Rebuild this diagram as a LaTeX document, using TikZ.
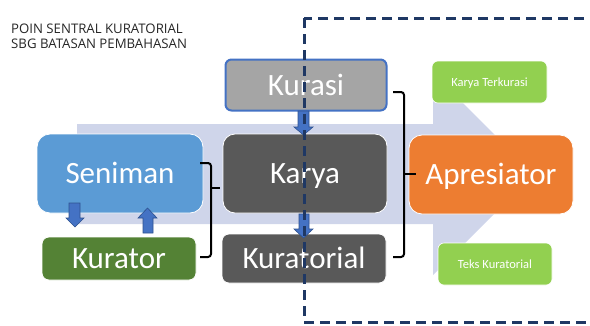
\documentclass[tikz,border=0pt]{standalone}
\usepackage{fontspec}
\setmainfont{Carlito}
\newfontfamily\titlefont{Open Sans}
\definecolor{lav}{HTML}{CFD5EA}
\definecolor{grayK}{HTML}{A5A5A5}
\definecolor{dark}{HTML}{595959}
\definecolor{blueS}{HTML}{5B9BD5}
\definecolor{greenK}{HTML}{548235}
\definecolor{orangeA}{HTML}{ED7D31}
\definecolor{lime}{HTML}{92D050}
\definecolor{arrowB}{HTML}{4472C4}
\definecolor{arrowE}{HTML}{2F528F}
\definecolor{navy}{HTML}{1F3864}
\definecolor{titlec}{HTML}{262626}
\begin{document}
\begin{tikzpicture}[x=1pt,y=-1pt,
  bigbox/.style={inner sep=0pt,text=white,font=\fontsize{31}{31}\selectfont,text height=20pt,text depth=0pt,draw=white,line width=0.8pt},
  smallbox/.style={inner sep=0pt,text=white,font=\fontsize{12.5}{12.5}\selectfont,text height=8pt,text depth=0pt,draw=white,line width=0.6pt,fill=lime,rounded corners=6pt,minimum width=115pt,minimum height=42pt},
  brace/.style={draw=black,line width=2pt,rounded corners=3pt},
  blockarrow/.style={fill=arrowB,draw=arrowE,line width=0.6pt},
  dashbox/.style={draw=navy,line width=3pt,dash pattern=on 10pt off 6pt}]
\clip (0,0) rectangle (590,325);
% background arrow
\fill[lav] (77,124) -- (433,124) -- (433,73) -- (534,174) -- (433,275) -- (433,224) -- (77,224) -- cycle;
% title
\node[anchor=base west,inner sep=0pt,font=\titlefont\fontsize{13.2}{15}\selectfont,text=titlec,align=left] (title) at (11,48) {POIN SENTRAL KURATORIAL\\SBG BATASAN PEMBAHASAN};
% boxes
\node[bigbox,fill=grayK,draw=arrowB,line width=2pt,rounded corners=6pt,minimum width=161pt,minimum height=51pt] (kurasi) at (306,85) {Kurasi};
\node[bigbox,fill=dark,rounded corners=12pt,minimum width=164pt,minimum height=79pt] (karya) at (305,173.5) {Karya};
\node[bigbox,fill=dark,rounded corners=7pt,minimum width=164pt,minimum height=49pt] (kurat) at (304,258.5) {Kuratorial};
\node[bigbox,fill=blueS,rounded corners=13pt,minimum width=166pt,minimum height=79pt] (sen) at (120,173.5) {Seniman};
\node[bigbox,fill=greenK,rounded corners=7pt,minimum width=154pt,minimum height=43pt] (kur) at (119,258.5) {Kurator};
\node[bigbox,fill=orangeA,rounded corners=13pt,minimum width=164pt,minimum height=79pt] (apr) at (491,174.5) {Apresiator};
\node[smallbox] (kt) at (489.5,82) {Karya Terkurasi};
\node[smallbox,minimum width=114pt] (tk) at (495,264) {Teks Kuratorial};
% block arrows
\draw[blockarrow] (69,203) -- (80,203) -- (80,218) -- (84,218) -- (75,227) -- (66,218) -- (69,218) -- cycle;
\draw[blockarrow] (143,233) -- (153,233) -- (153,218) -- (157,218) -- (147.5,208) -- (138,218) -- (143,218) -- cycle;
\draw[blockarrow] (298,111) -- (309,111) -- (309,127) -- (313,127) -- (303.5,135) -- (294,127) -- (298,127) -- cycle;
\draw[blockarrow] (299,214) -- (309,214) -- (309,229) -- (313,229) -- (303.5,238) -- (294,229) -- (299,229) -- cycle;
% brackets
\coordinate (lbT) at (200,163);
\coordinate (lbB) at (200,257);
\coordinate (lbM) at (211,188);
\coordinate (lbE) at (220,188);
\draw[brace] (lbT) -- (211,163) -- (211,257) -- (lbB);
\draw[brace,rounded corners=0pt] (lbM) -- (lbE);
\coordinate (rbT) at (393,92);
\coordinate (rbB) at (393,257);
\coordinate (rbM) at (404,174);
\coordinate (rbE) at (416,174);
\draw[brace] (rbT) -- (404,92) -- (404,257) -- (rbB);
\draw[brace,rounded corners=0pt] (rbM) -- (rbE);
% dashed region
\draw[dashbox] (304,18) rectangle (620,322);
\end{tikzpicture}
\end{document}
